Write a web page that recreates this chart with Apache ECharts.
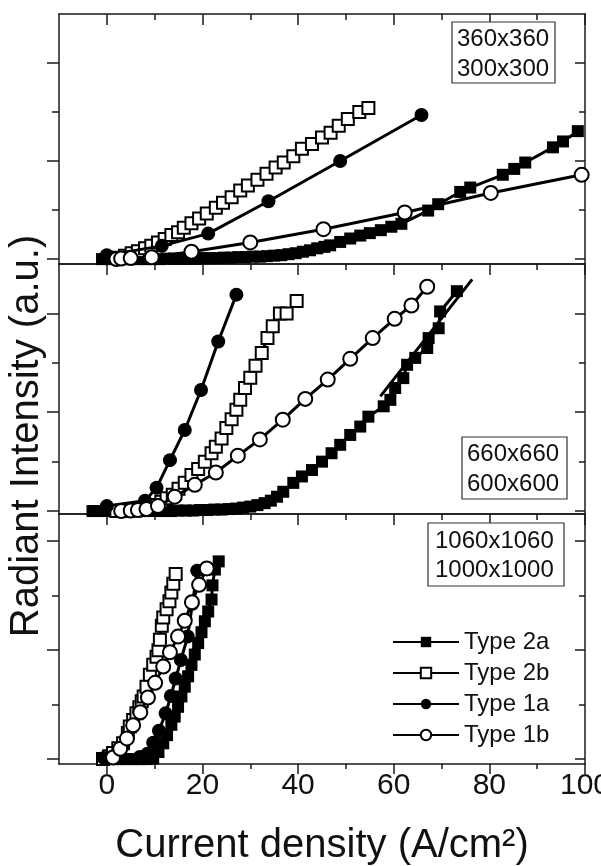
<!DOCTYPE html>
<html><head><meta charset="utf-8">
<script src="https://cdn.jsdelivr.net/npm/echarts@6/dist/echarts.min.js"></script>
<style>html,body{margin:0;padding:0;background:#fff}#c{width:601px;height:866px}</style>
</head><body><div id="c"></div>
<script>
// ---- tick values / labels ----
const xMajorTicks = [0, 20, 40, 60, 80, 100];
const xMinorTicks = [10, 30, 50, 70, 90];
const xTickLabels = ['0', '20', '40', '60', '80', '100'];
const yMajorTicks = [0, 2, 4];
const yMinorTicks = [1, 3];
const panelLabels = [['360x360', '300x300'], ['660x660', '600x600'], ['1060x1060', '1000x1000']];
const seriesNames = ['Type 2a', 'Type 2b', 'Type 1a', 'Type 1b'];
const xTitle = 'Current density (A/cm\u00B2)';
const yTitle = 'Radiant Intensity (a.u.)';

// ---- panel 1 : 360x360 / 300x300 ----
const top2a = [[-1,0],[0.5,0],[2,0],[3.5,0],[5,0],[6.5,0],[8,0],[9.5,0],[11,0],[12.5,0.01],[14,0.01],[15.5,0.01],[17,0.01],[18.5,0.01],[20,0.02],[21.5,0.02],[23,0.02],[24.5,0.03],[26,0.03],[27.5,0.04],[29,0.04],[30.5,0.05],[32,0.05],[33.5,0.06],[35,0.07],[36.5,0.08],[38,0.1],[39.5,0.12],[41,0.15],[42.5,0.18],[44,0.22],[45.5,0.25],[46.7,0.28],[48.8,0.35],[50.9,0.42],[53,0.48],[55,0.53],[57.3,0.59],[59.5,0.66],[61.6,0.72],[67.2,0.99],[69.3,1.12],[73.9,1.37],[76,1.46],[82.8,1.72],[85.2,1.84],[87.5,1.97],[93.3,2.28],[95.4,2.4],[98.5,2.61]];
const top2b = [[2.3,0.03],[3.8,0.07],[5.2,0.12],[6.5,0.16],[8,0.22],[9.3,0.27],[10.7,0.34],[12.1,0.41],[13.5,0.49],[14.9,0.55],[16.1,0.64],[17.7,0.73],[19.3,0.83],[20.9,0.93],[22.8,1.05],[24.3,1.15],[26.1,1.26],[27.9,1.4],[29.5,1.5],[31.5,1.62],[33.4,1.74],[35.3,1.87],[37,1.97],[39,2.1],[40.8,2.25],[42.9,2.35],[45,2.48],[46.8,2.58],[48.5,2.72],[50.4,2.86],[52.8,3.0],[54.7,3.08]];
const top1a = [[0,0.08],[11.5,0.27],[21.2,0.52],[33.8,1.18],[48.8,2.0],[65.8,2.94]];
const top1b = [[2,0],[3,0.01],[5,0.02],[9.4,0.04],[17.7,0.15],[30,0.34],[45.3,0.61],[62.3,0.95],[80.3,1.35],[99.3,1.72]];

// ---- panel 2 : 660x660 / 600x600 ----
const mid2a = [[-3,0],[-1.5,0],[0,0],[1.5,0],[3,0],[4.5,0],[6,0],[7.5,0],[9,0],[10.5,0],[12,0],[13.5,0],[15,0.01],[16.5,0.01],[18,0.01],[19.5,0.02],[21,0.02],[22.5,0.03],[24,0.03],[25.5,0.04],[27,0.05],[28.5,0.07],[30,0.09],[31.5,0.12],[33,0.16],[34.3,0.21],[35.6,0.29],[36.9,0.39],[39,0.57],[40.8,0.7],[42.9,0.83],[45,1.0],[47,1.17],[48.8,1.34],[50.9,1.54],[53,1.71],[54.7,1.91],[57.9,2.12],[59.3,2.25],[60.3,2.49],[62,2.69],[62.8,2.96],[64.5,3.1],[67,3.3],[67.3,3.5],[69.4,3.7],[69.7,4.04],[73.2,4.45]];
const mid2aFit = [[57.2,2.32],[76.4,4.69]];
const mid2b = [[2,0],[4,0],[6,0.01],[8,0.02],[10.3,0.12],[11.4,0.19],[12.5,0.26],[13.8,0.33],[15,0.45],[16.3,0.57],[17.7,0.73],[19.1,0.85],[20.5,1.0],[21.9,1.17],[22.8,1.3],[24,1.47],[25,1.68],[26.1,1.86],[27.1,2.05],[27.9,2.25],[28.9,2.49],[30,2.7],[31.1,2.94],[32.4,3.2],[33.6,3.5],[34.7,3.74],[36.2,4.0],[37.6,4.0],[39.7,4.25]];
const mid1a = [[0,0.1],[8,0.21],[10.4,0.47],[13.2,1.03],[16.3,1.64],[19.7,2.45],[23.3,3.43],[27.1,4.38]];
const mid1b = [[3,0],[5,0.01],[6.5,0.02],[8.3,0.04],[10.7,0.1],[14.2,0.29],[18.4,0.53],[22.8,0.78],[27.4,1.12],[32,1.45],[36.8,1.85],[41.5,2.27],[46.2,2.66],[50.9,3.08],[55.6,3.5],[60.2,3.89],[63.7,4.16],[67,4.54]];

// ---- panel 3 : 1060x1060 / 1000x1000 ----
const bot2a = [[-0.5,0],[1,0],[2.5,0],[4,0],[5.5,0],[7,0],[8.4,0],[9.7,0.01],[10.8,0.13],[11.8,0.29],[12.6,0.44],[13.5,0.63],[14.2,0.78],[14.9,0.96],[15.6,1.15],[16.3,1.33],[17,1.52],[17.7,1.73],[18.4,1.92],[19.1,2.13],[19.8,2.33],[20.5,2.53],[21.2,2.71],[21.9,2.93],[22.1,3.19],[22.6,3.48],[23.4,3.63]];
const bot2b = [[-0.8,0],[0.5,0.05],[1.3,0.11],[2.4,0.2],[3.4,0.29],[4.4,0.48],[4.8,0.6],[5.5,0.72],[6.2,0.84],[6.8,0.95],[7.3,1.06],[7.7,1.15],[8.3,1.33],[9,1.55],[9.7,1.73],[10.4,1.88],[10.8,2.0],[11.1,2.19],[11.5,2.45],[11.8,2.6],[12.5,2.75],[13.1,2.9],[13.5,3.06],[13.9,3.22],[14.4,3.4]];
const bot1a = [[-0.6,0.02],[6.9,0.04],[8.5,0.1],[9.7,0.3],[10.9,0.52],[12.3,0.84],[13.4,1.16],[14.4,1.48],[15.5,1.82],[16.9,2.25],[17.9,2.85],[18.9,3.46]];
const bot1b = [[1.3,0.03],[2.8,0.19],[4.2,0.38],[5.5,0.62],[7,0.86],[8.6,1.13],[10.1,1.4],[11.8,1.7],[13.2,1.96],[14.9,2.25],[16.3,2.54],[17.8,2.88],[19.3,3.2],[20.9,3.5]];

const yRanges = [[-0.1, 5], [-0.06, 5], [-0.09, 4.5]];

// ---- build option ----
const FONT = '"Liberation Sans", Arial, sans-serif';
const AX = '#1a1a1a';
const gridRects = [14, 264, 514].map(t => ({ left: 59, width: 526, top: t, height: 250, containLabel: false, outerBoundsMode: 'none' }));
const grid = gridRects.concat(gridRects.map(r => Object.assign({}, r)));

const tickStyle = { color: AX, width: 1.5 };
const xAxis = [];
const yAxis = [];
for (let g = 0; g < 3; g++) {
  const last = g === 2;
  xAxis.push({
    gridIndex: g, type: 'value', min: -10, max: 100, position: 'bottom',
    axisLine: { show: true, onZero: false, lineStyle: { color: AX, width: 1.5 } },
    axisTick: last ? { show: true, inside: false, length: 10, customValues: xMajorTicks, lineStyle: tickStyle } : { show: false },
    axisLabel: last ? { show: true, customValues: xMajorTicks, margin: 7, fontSize: 30, color: '#111', fontFamily: FONT,
      formatter: v => xTickLabels[xMajorTicks.indexOf(v)] } : { show: false },
    splitLine: { show: false },
    name: last ? xTitle : '', nameLocation: 'middle', nameGap: 62,
    nameTextStyle: { fontSize: 40, color: '#111', fontFamily: FONT }
  });
  xAxis.push({
    gridIndex: g, type: 'value', min: -10, max: 100, position: 'top',
    axisLine: { show: true, onZero: false, lineStyle: { color: AX, width: 1.5 } },
    axisTick: { show: true, inside: true, length: 11, customValues: xMajorTicks, lineStyle: tickStyle },
    axisLabel: { show: false }, splitLine: { show: false }
  });
  yAxis.push({
    gridIndex: g, type: 'value', min: yRanges[g][0], max: yRanges[g][1], position: 'left',
    axisLine: { show: true, onZero: false, lineStyle: { color: AX, width: 1.5 } },
    axisTick: { show: true, inside: false, length: 12, customValues: yMajorTicks, lineStyle: tickStyle },
    axisLabel: { show: false }, splitLine: { show: false }
  });
  yAxis.push({
    gridIndex: g, type: 'value', min: yRanges[g][0], max: yRanges[g][1], position: 'right',
    axisLine: { show: true, onZero: false, lineStyle: { color: AX, width: 1.5 } },
    axisTick: { show: true, inside: true, length: 10, customValues: yMajorTicks, lineStyle: tickStyle },
    axisLabel: { show: false }, splitLine: { show: false }
  });
}
for (let g = 0; g < 3; g++) {
  const gi = 3 + g, last = g === 2;
  xAxis.push({
    gridIndex: gi, type: 'value', min: -10, max: 100, position: 'bottom',
    axisLine: { show: false, onZero: false },
    axisTick: last ? { show: true, inside: false, length: 5, customValues: xMinorTicks, lineStyle: tickStyle } : { show: false },
    axisLabel: { show: false }, splitLine: { show: false }
  });
  xAxis.push({
    gridIndex: gi, type: 'value', min: -10, max: 100, position: 'top',
    axisLine: { show: false, onZero: false },
    axisTick: { show: true, inside: true, length: 6, customValues: xMinorTicks, lineStyle: tickStyle },
    axisLabel: { show: false }, splitLine: { show: false }
  });
  yAxis.push({
    gridIndex: gi, type: 'value', min: yRanges[g][0], max: yRanges[g][1], position: 'left',
    axisLine: { show: false, onZero: false },
    axisTick: { show: true, inside: false, length: 7, customValues: yMinorTicks, lineStyle: tickStyle },
    axisLabel: { show: false }, splitLine: { show: false }
  });
  yAxis.push({
    gridIndex: gi, type: 'value', min: yRanges[g][0], max: yRanges[g][1], position: 'right',
    axisLine: { show: false, onZero: false },
    axisTick: { show: true, inside: true, length: 6, customValues: yMinorTicks, lineStyle: tickStyle },
    axisLabel: { show: false }, splitLine: { show: false }
  });
}

function mk(name, data, g, symbol, filled, size, z) {
  return {
    name, type: 'line', data, xAxisIndex: 2 * g, yAxisIndex: 2 * g,
    symbol, symbolSize: size, showSymbol: true, z,
    lineStyle: { color: '#000', width: 3 },
    itemStyle: filled ? { color: '#000', borderColor: '#000', borderWidth: 0 } : { color: '#fff', borderColor: '#000', borderWidth: 2 },
    emphasis: { disabled: true }, animation: false
  };
}
const panelData = [
  [top2a, top2b, top1a, top1b],
  [mid2a, mid2b, mid1a, mid1b],
  [bot2a, bot2b, bot1a, bot1b]
];
const series = [];
for (let g = 0; g < 3; g++) {
  series.push(mk(seriesNames[0], panelData[g][0], g, 'rect', true, 12, 3));
  series.push(mk(seriesNames[1], panelData[g][1], g, 'rect', false, 12, 4));
  series.push(mk(seriesNames[2], panelData[g][2], g, 'circle', true, 14, 5));
  series.push(mk(seriesNames[3], panelData[g][3], g, 'circle', false, 14, 6));
}
series.push({
  name: 'fit', type: 'line', data: mid2aFit, xAxisIndex: 2, yAxisIndex: 2, symbol: 'none',
  lineStyle: { color: '#000', width: 3 }, z: 2, animation: false
});

const boxes = [
  { x: 452, y: 22, w: 103, h: 61, tx: 457, ty: [39.5, 69] },
  { x: 462, y: 437, w: 105, h: 62, tx: 467, ty: [454.5, 484.5] },
  { x: 428, y: 523, w: 136, h: 63, tx: 435, ty: [541.5, 570.5] }
];
const graphic = [];
boxes.forEach((b, i) => {
  graphic.push({ type: 'rect', shape: { x: b.x, y: b.y, width: b.w, height: b.h },
    style: { fill: '#fff', stroke: '#333', lineWidth: 1.2 }, z: 100 });
  panelLabels[i].forEach((t, j) => {
    graphic.push({ type: 'text', x: b.tx, y: b.ty[j], z: 101,
      style: { text: t, font: '24px ' + FONT, fill: '#111', textAlign: 'left', textVerticalAlign: 'middle' } });
  });
});
graphic.push({ type: 'text', x: 27, y: 436, rotation: Math.PI / 2, z: 101,
  style: { text: yTitle, font: '40px ' + FONT, fill: '#111', textAlign: 'center', textVerticalAlign: 'middle' } });

const option = {
  animation: false,
  backgroundColor: '#fff',
  grid, xAxis, yAxis, series, graphic,
  legend: {
    data: seriesNames, orient: 'vertical', left: 387, top: 625,
    itemWidth: 66, itemHeight: 13, itemGap: 7, selectedMode: false,
    textStyle: { fontSize: 24, color: '#111', fontFamily: FONT }
  }
};
const chart = echarts.init(document.getElementById('c'), null, { renderer: 'canvas' });
chart.setOption(option);
</script></body></html>
